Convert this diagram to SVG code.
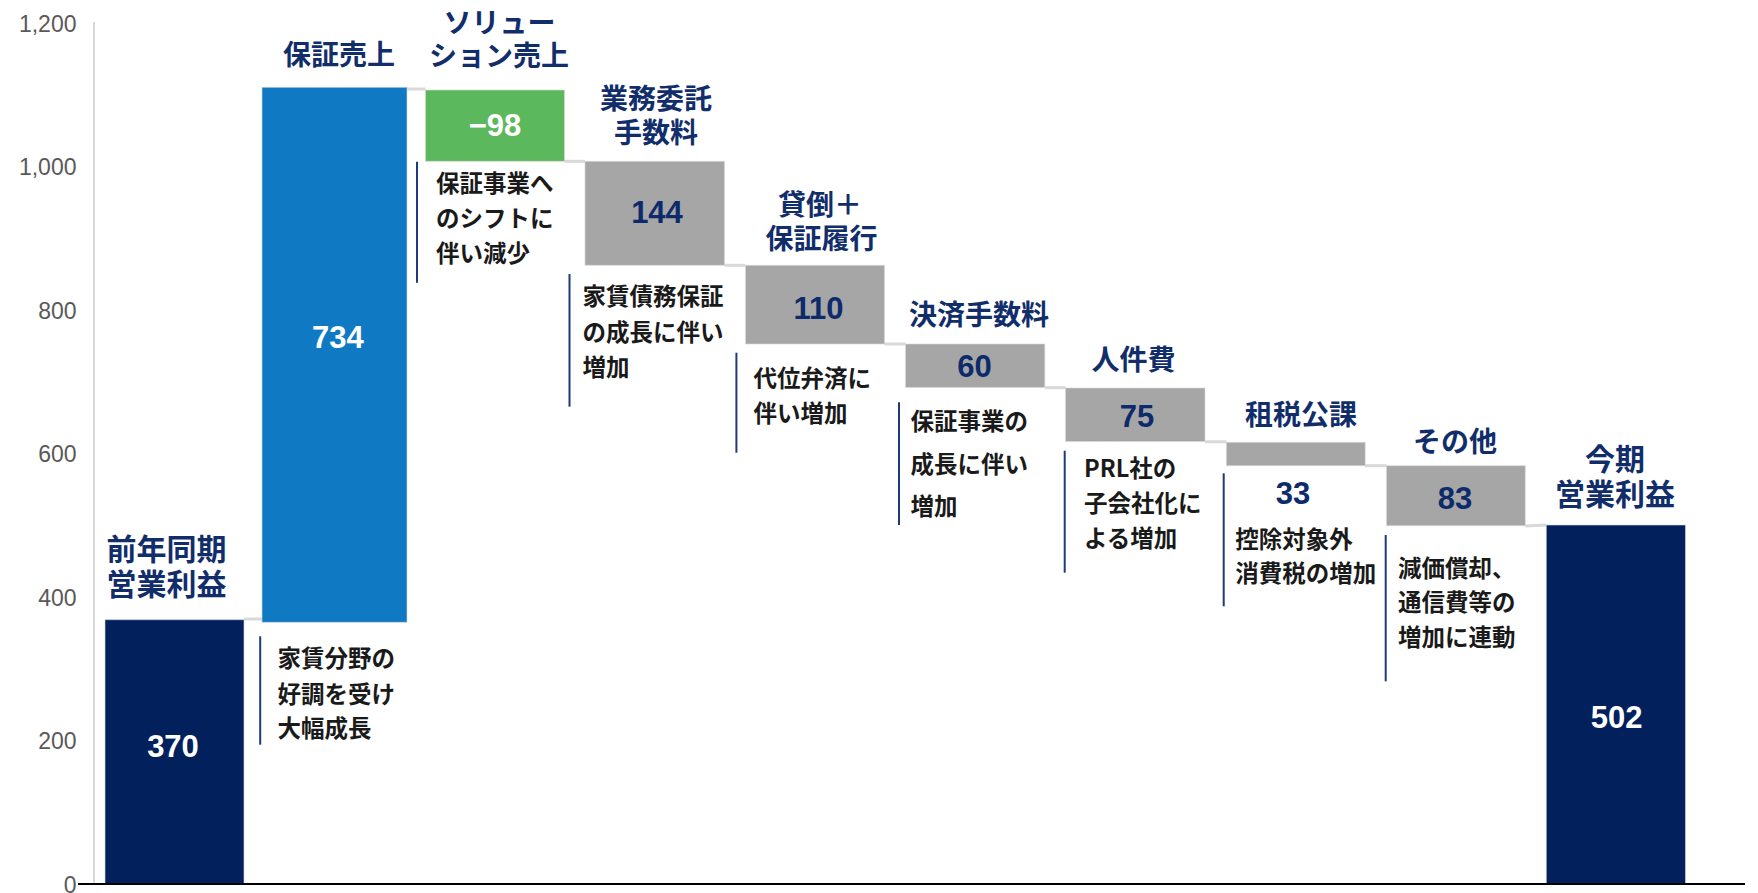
<svg xmlns="http://www.w3.org/2000/svg" width="1758" height="893" viewBox="0 0 1758 893">
<style>
.bar{stroke:#d9d9d9;stroke-width:1;stroke-opacity:0.6}
.navy{fill:#02205C}
.blue{fill:#0F7AC3}
.green{fill:#5CB85C}
.gray{fill:#A6A6A6}
.cat{font-family:"Noto Sans CJK JP","Noto Sans",sans-serif;font-weight:700;font-size:28px;fill:#112E6B;text-anchor:middle}
.cat30{font-size:30px}
.val{font-family:"Liberation Sans",Arial,sans-serif;font-weight:700;font-size:31px;text-anchor:middle}
.vw{fill:#ffffff}
.vn{fill:#0D2B6B}
.ann{font-family:"Noto Sans CJK JP","Noto Sans",sans-serif;font-weight:700;font-size:23.5px;fill:#1a1a1a}
.cl{stroke:#1F3A7A;stroke-width:2;fill:none}
.tick{font-family:"Liberation Sans",Arial,sans-serif;font-size:23px;fill:#595959;text-anchor:end}
.step{stroke:#D9D9D9;stroke-width:3;fill:none}
</style>
<rect width="1758" height="893" fill="#ffffff"/>
<g id="axis">
<line x1="94" y1="22" x2="94" y2="884" stroke="#D9D9D9" stroke-width="2"/>
<text class="tick" x="76.5" y="31.7">1,200</text>
<text class="tick" x="76.5" y="175.2">1,000</text>
<text class="tick" x="76.5" y="318.7">800</text>
<text class="tick" x="76.5" y="462.2">600</text>
<text class="tick" x="76.5" y="605.7">400</text>
<text class="tick" x="76.5" y="749.2">200</text>
<text class="tick" x="76.5" y="892.7">0</text>
</g>
<g id="connectors">
<line class="step" x1="244" y1="619" x2="262" y2="619"/>
<line class="step" x1="407" y1="89" x2="425.5" y2="89"/>
<line class="step" x1="564.5" y1="161.3" x2="585" y2="161.3"/>
<line class="step" x1="724.5" y1="265.3" x2="745.5" y2="265.3"/>
<line class="step" x1="884.5" y1="344" x2="905.5" y2="344"/>
<line class="step" x1="1044.8" y1="387.7" x2="1065.5" y2="387.7"/>
<line class="step" x1="1205" y1="441.8" x2="1226.4" y2="441.8"/>
<line class="step" x1="1365" y1="465.7" x2="1386.5" y2="465.7"/>
<line class="step" x1="1525.3" y1="526" x2="1546.3" y2="525"/>
</g>
<g id="prev">
<rect class="bar navy" x="105" y="619.7" width="139" height="264.3"/>
<text class="cat cat30"><tspan x="166.5" y="559.5">前年同期</tspan><tspan x="166.5" y="594.5">営業利益</tspan></text>
<text class="val vw" x="173" y="757">370</text>
</g>
<g id="hosho">
<rect class="bar blue" x="262" y="87.3" width="145" height="535"/>
<text class="cat" x="339" y="64.5">保証売上</text>
<text class="val vw" x="337.8" y="348.3">734</text>
<line class="cl" x1="260.2" y1="636.3" x2="260.2" y2="744.7"/>
<text class="ann"><tspan x="277.5" y="667">家賃分野の</tspan><tspan x="277.5" y="702.5">好調を受け</tspan><tspan x="277.5" y="737">大幅成長</tspan></text>
</g>
<g id="solution">
<rect class="bar green" x="425.5" y="90" width="139" height="71.3"/>
<text class="cat"><tspan x="499.5" y="33">ソリュー</tspan><tspan x="499" y="66">ション売上</tspan></text>
<text class="val vw" x="495" y="136">−98</text>
<line class="cl" x1="417" y1="161.7" x2="417" y2="282.7"/>
<text class="ann"><tspan x="436" y="192">保証事業へ</tspan><tspan x="436" y="227">のシフトに</tspan><tspan x="436" y="262">伴い減少</tspan></text>
</g>
<g id="gyomu">
<rect class="bar gray" x="585" y="161.3" width="139.5" height="104"/>
<text class="cat"><tspan x="656" y="108.5">業務委託</tspan><tspan x="656" y="143">手数料</tspan></text>
<text class="val vn" x="657" y="223">144</text>
<line class="cl" x1="569.5" y1="274" x2="569.5" y2="406.7"/>
<text class="ann"><tspan x="582.5" y="305">家賃債務保証</tspan><tspan x="582.5" y="341">の成長に伴い</tspan><tspan x="582.5" y="375.5">増加</tspan></text>
</g>
<g id="kashidaore">
<rect class="bar gray" x="745.5" y="265.3" width="139" height="78.7"/>
<text class="cat"><tspan x="820" y="214.5">貸倒＋</tspan><tspan x="821.5" y="248.5">保証履行</tspan></text>
<text class="val vn" x="818.6" y="319">110</text>
<line class="cl" x1="736.4" y1="352.7" x2="736.4" y2="452.7"/>
<text class="ann"><tspan x="753.6" y="386.5">代位弁済に</tspan><tspan x="753.6" y="421.5">伴い増加</tspan></text>
</g>
<g id="kessai">
<rect class="bar gray" x="905.5" y="344" width="139.3" height="43.5"/>
<text class="cat" x="979" y="324.5">決済手数料</text>
<text class="val vn" x="974.4" y="377.3">60</text>
<line class="cl" x1="899" y1="402.3" x2="899" y2="525"/>
<text class="ann"><tspan x="910.5" y="430">保証事業の</tspan><tspan x="910.5" y="472.5">成長に伴い</tspan><tspan x="910.5" y="515">増加</tspan></text>
</g>
<g id="jinken">
<rect class="bar gray" x="1065.5" y="388" width="139.5" height="53.5"/>
<text class="cat" x="1133.5" y="369.5">人件費</text>
<text class="val vn" x="1137" y="426.7">75</text>
<line class="cl" x1="1064.7" y1="450.7" x2="1064.7" y2="572.7"/>
<text class="ann"><tspan x="1084" y="476.5">PRL社の</tspan><tspan x="1084" y="511.5">子会社化に</tspan><tspan x="1084" y="546.5">よる増加</tspan></text>
</g>
<g id="sozei">
<rect class="bar gray" x="1226.4" y="442.3" width="138.8" height="23.4"/>
<text class="cat" x="1301" y="425">租税公課</text>
<text class="val vn" x="1293" y="503.5">33</text>
<line class="cl" x1="1223.7" y1="473.3" x2="1223.7" y2="606.3"/>
<text class="ann"><tspan x="1235.3" y="547.5">控除対象外</tspan><tspan x="1235.3" y="582">消費税の増加</tspan></text>
</g>
<g id="sonota">
<rect class="bar gray" x="1386.5" y="465.7" width="138.8" height="60"/>
<text class="cat" x="1455" y="452">その他</text>
<text class="val vn" x="1455" y="508.5">83</text>
<line class="cl" x1="1385.7" y1="535" x2="1385.7" y2="681.3"/>
<text class="ann"><tspan x="1398" y="576.5">減価償却、</tspan><tspan x="1398" y="611">通信費等の</tspan><tspan x="1398" y="646">増加に連動</tspan></text>
</g>
<g id="current">
<rect class="bar navy" x="1546.3" y="525" width="139.2" height="359"/>
<text class="cat cat30"><tspan x="1615" y="469.5">今期</tspan><tspan x="1615" y="505">営業利益</tspan></text>
<text class="val vw" x="1616.7" y="728">502</text>
</g>
<line id="baseline" x1="78" y1="884" x2="1745" y2="884" stroke="#000000" stroke-width="2"/>
</svg>
